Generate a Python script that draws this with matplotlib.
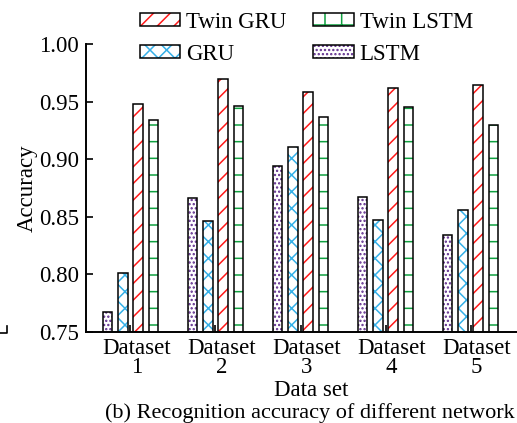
import matplotlib
matplotlib.use('Agg')
import matplotlib.pyplot as plt
import matplotlib.transforms as mtrans
import numpy as np
from matplotlib.patches import Patch
from matplotlib.legend_handler import HandlerTuple
from matplotlib.lines import Line2D

plt.rcParams['font.family'] = ['Liberation Serif', 'DejaVu Serif']
plt.rcParams['hatch.linewidth'] = 1.1

# ---- data ----
categories = ['Dataset\n1', 'Dataset\n2', 'Dataset\n3', 'Dataset\n4', 'Dataset\n5']
lstm = [0.767, 0.866, 0.894, 0.867, 0.834]
gru = [0.801, 0.846, 0.911, 0.847, 0.856]
twin_gru = [0.948, 0.970, 0.958, 0.962, 0.964]
twin_lstm = [0.934, 0.946, 0.937, 0.945, 0.930]
yticks = [0.75, 0.80, 0.85, 0.90, 0.95, 1.00]
ytick_labels = ['0.75', '0.80', '0.85', '0.90', '0.95', '1.00']

# name, values, hatch colour, bar hatch, legend hatch, offset
series = [
    ('LSTM', lstm, '#5e2a8c', '....', '....', -0.27),
    ('GRU', gru, '#35b0e8', 'xx', 'xx', -0.09),
    ('Twin GRU', twin_gru, '#ff1a1a', '//', '//', 0.09),
    ('Twin LSTM', twin_lstm, '#10a040', '-', '+', 0.27),
]

FS = 16.5
W, H = 517, 423
fig = plt.figure(figsize=(W / 100, H / 100), dpi=100)
ax = fig.add_axes([86 / W, 1 - 332 / H, (W - 86) / W, (332 - 44) / H])

x = np.arange(len(categories))
bw = 0.112
handles = {}
for name, vals, col, hatch, lhatch, off in series:
    ax.bar(x + off, vals, bw, color='white', edgecolor=col, hatch=hatch, linewidth=0, zorder=2)
    ax.bar(x + off, vals, bw, fill=False, edgecolor='black', linewidth=1.1, zorder=3)
    handles[name] = (Patch(facecolor='white', edgecolor=col, hatch=lhatch, linewidth=0),
                     Patch(fill=False, edgecolor='black', linewidth=1.1))

ax.set_xlim(-0.5235, 4.547)
ax.set_ylim(0.75, 1.00)
ax.set_yticks(yticks)
ax.set_yticklabels(ytick_labels)
ax.set_xticks(x)
ax.set_xticklabels(categories, linespacing=0.9)
ax.tick_params(direction='in', length=5, width=1.2, labelsize=FS)
ax.tick_params(axis='x', pad=4)
ax.tick_params(axis='y', pad=5)
shift = mtrans.ScaledTranslation(6 / 100, 0, fig.dpi_scale_trans)
for lab in ax.get_xticklabels():
    lab.set_transform(lab.get_transform() + shift)
for s in ['top', 'right']:
    ax.spines[s].set_visible(False)
for s in ['left', 'bottom']:
    ax.spines[s].set_linewidth(1.4)

ax.set_ylabel('Accuracy', fontsize=FS, labelpad=1)
ax.set_xlabel('Data set', fontsize=FS, labelpad=0)
ax.xaxis.set_label_coords((311 - 86) / (W - 86), -0.165)

order = ['Twin GRU', 'GRU', 'Twin LSTM', 'LSTM']
leg = fig.legend([handles[k] for k in order], order, ncol=2, loc='upper left',
                 bbox_to_anchor=(140 / W, 1 - 11.5 / H), frameon=False, fontsize=FS,
                 handler_map={tuple: HandlerTuple(ndivide=1)},
                 handlelength=1.75, handleheight=0.48, handletextpad=0.26,
                 columnspacing=1.18, labelspacing=0.48, borderpad=0, borderaxespad=0)

fig.text(105 / W, 1 - 418 / H, '(b) Recognition accuracy of different network',
         fontsize=16, ha='left', va='baseline')

# fragment of neighbouring panel at the left edge
fig.add_artist(Line2D([0, 7 / W, 7 / W], [1 - 333 / H, 1 - 333 / H, 1 - 326 / H],
                      transform=fig.transFigure, color='black', lw=1.2))

fig.savefig('out.png', dpi=100)
